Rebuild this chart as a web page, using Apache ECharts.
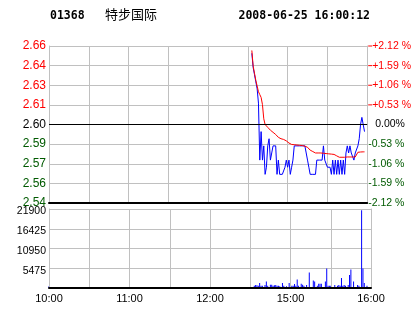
<!DOCTYPE html>
<html><head><meta charset="utf-8">
<script src="https://cdn.jsdelivr.net/npm/echarts@6/dist/echarts.min.js"></script>
<style>html,body{margin:0;padding:0;background:#fff;}#c{width:414px;height:314px;}</style>
</head><body><div id="c"></div>
<script>
// ---- header ----
const stockCode = '01368';
const stockName = '特步国际';
const timestamp = '2008-06-25 16:00:12';
const prevClose = 2.60;

// ---- tick labels ----
const timeAxisLabels = ['10:00', '11:00', '12:00', '15:00', '16:00'];
const priceAxisLabels = ['2.54', '2.56', '2.57', '2.59', '2.60', '2.61', '2.63', '2.64', '2.66'];
const pctAxisLabels = ['-2.12 %', '-1.59 %', '-1.06 %', '-0.53 %', '0.00%', '+0.53 %', '+1.06 %', '+1.59 %', '+2.12 %'];
const volAxisLabels = ['', '5475', '10950', '16425', '21900'];
const pctRange = [-2.12, 2.12];
const pctStep = 0.53;
const volRange = [0, 21900];
const volStep = 5475;

// ---- series (one value per minute, starting at seriesStart) ----
const seriesStart = '14:33';
const lastPrice = [
  2.650, 2.640, 2.635, 2.630, 2.625, 2.615, 2.575, 2.595, 2.575, 2.585,
  2.565, 2.570, 2.585, 2.590, 2.575, 2.580, 2.585, 2.585, 2.585, 2.565,
  2.575, 2.565, 2.565, 2.565, 2.565, 2.570, 2.575, 2.570, 2.575, 2.565,
  2.570, 2.575, 2.585, 2.585, 2.585, 2.585, 2.585, 2.585, 2.585, 2.585,
  2.585, 2.580, 2.575, 2.570, 2.565, 2.565, 2.565, 2.565, 2.565, 2.575,
  2.575, 2.575, 2.575, 2.575, 2.585, 2.575, 2.575, 2.570, 2.570, 2.570,
  2.565, 2.575, 2.565, 2.575, 2.565, 2.575, 2.565, 2.575, 2.565, 2.575,
  2.565, 2.580, 2.585, 2.580, 2.585, 2.580, 2.580, 2.575, 2.580, 2.580,
  2.585, 2.590, 2.600, 2.605, 2.600, 2.595
];
const avgPrice = [
  2.652, 2.641, 2.636, 2.631, 2.627, 2.623, 2.621, 2.619, 2.614, 2.604,
  2.600, 2.599, 2.598, 2.597, 2.596, 2.595, 2.5945, 2.594, 2.593, 2.592,
  2.591, 2.5905, 2.590, 2.590, 2.5895, 2.589, 2.5885, 2.588, 2.587, 2.5865,
  2.586, 2.586, 2.5858, 2.5857, 2.5856, 2.5855, 2.5854, 2.5853, 2.5852, 2.585,
  2.5848, 2.5843, 2.584, 2.583, 2.582, 2.5815, 2.581, 2.5805, 2.580, 2.580,
  2.580, 2.580, 2.580, 2.5798, 2.5798, 2.5797, 2.5796, 2.5795, 2.5794, 2.5793,
  2.5792, 2.5791, 2.579, 2.579, 2.578, 2.577, 2.577, 2.577, 2.577, 2.577,
  2.577, 2.577, 2.5772, 2.5772, 2.5772, 2.5772, 2.5772, 2.5772, 2.5772, 2.5772,
  2.5805, 2.5806, 2.5807, 2.5808, 2.5808, 2.5808
];
const volume = [
  650, 840, 740, 650, 1400, 650, 650, 0, 840, 1770,
  650, 0, 930, 930, 650, 740, 840, 650, 650, 465,
  0, 1400, 650, 0, 465, 0, 1400, 0, 650, 650,
  1120, 650, 2330, 650, 0, 1210, 930, 650, 0, 840,
  0, 4280, 0, 0, 2050, 1770, 0, 650, 1210, 1210,
  1210, 0, 0, 1770, 5400, 650, 650, 650, 0, 0,
  840, 0, 650, 840, 650, 2790, 650, 840, 650, 0,
  840, 3630, 5115, 0, 1770, 0, 0, 840, 650, 0,
  21580, 5400, 1400, 0, 650, 0
];
const openTime = '10:00';
const openVolume = 500;

// ---- session minutes (10:00-12:30, 14:31-16:00) ----
function pad(n) { return (n < 10 ? '0' : '') + n; }
const times = [];
for (let t = 600; t <= 750; t++) times.push(pad(Math.floor(t / 60)) + ':' + pad(t % 60));
for (let t = 871; t <= 960; t++) times.push(pad(Math.floor(t / 60)) + ':' + pad(t % 60));

const startIdx = times.indexOf(seriesStart);
const toPct = p => (p / prevClose - 1) * 100;
const priceData = times.map((t, i) => (i >= startIdx && i < startIdx + lastPrice.length) ? toPct(lastPrice[i - startIdx]) : null);
const avgData = times.map((t, i) => (i >= startIdx && i < startIdx + avgPrice.length) ? toPct(avgPrice[i - startIdx]) : null);
const volData = times.map((t, i) => {
  if (t === openTime) return openVolume;
  return (i >= startIdx && i < startIdx + volume.length) ? volume[i - startIdx] : null;
});

const RED = '#ff0000', GREEN = '#005a00', BLUE = '#0000ff', GRAY = '#c0c0c0';
const pctIndex = v => Math.round((v - pctRange[0]) / pctStep);
const signColor = v => v > 1e-6 ? RED : (v < -1e-6 ? GREEN : '#000');
const isTimeLabel = (idx) => timeAxisLabels.indexOf(times[idx]) >= 0;

const chart = echarts.init(document.getElementById('c'), null, { renderer: 'canvas' });
chart.setOption({
  animation: false,
  backgroundColor: '#fff',
  graphic: [
    { type: 'text', left: 50, top: 10, style: { text: stockCode, font: 'bold 11.5px "DejaVu Sans Mono"', fill: '#000' } },
    { type: 'text', left: 105, top: 8, style: { text: stockName, font: '13px "Noto Sans CJK SC"', fill: '#000' } },
    { type: 'text', right: 44, top: 10, style: { text: timestamp, font: 'bold 11.5px "DejaVu Sans Mono"', fill: '#000' } }
  ],
  grid: [
    { left: 49, right: 43, top: 46, height: 157 },
    { left: 49, right: 43, top: 209, height: 79 }
  ],
  xAxis: [
    {
      type: 'category', gridIndex: 0, data: times, boundaryGap: false, z: 3,
      axisLine: { onZero: false, lineStyle: { color: '#000', width: 2 } },
      axisTick: { show: false }, axisLabel: { show: false },
      splitLine: { show: true, interval: (i) => i % 30 === 0, lineStyle: { color: GRAY } }
    },
    {
      type: 'category', gridIndex: 1, data: times, boundaryGap: false, z: 3,
      axisLine: { onZero: false, lineStyle: { color: '#000', width: 2 } },
      axisTick: { show: false },
      axisLabel: { interval: (i) => isTimeLabel(i), color: '#000', fontFamily: 'Liberation Sans', fontSize: 11, margin: 5 },
      splitLine: { show: true, interval: (i) => i % 30 === 0, lineStyle: { color: GRAY } }
    }
  ],
  yAxis: [
    {
      type: 'value', gridIndex: 0, position: 'left', min: pctRange[0], max: pctRange[1], interval: pctStep,
      axisLine: { show: true, lineStyle: { color: GRAY } }, axisTick: { show: false },
      axisLabel: {
        formatter: (v) => priceAxisLabels[pctIndex(v)], color: (v) => signColor(v),
        fontFamily: 'Liberation Sans', fontSize: 12, margin: 3
      },
      splitLine: { show: true, lineStyle: { color: GRAY } }
    },
    {
      type: 'value', gridIndex: 0, position: 'right', min: pctRange[0], max: pctRange[1], interval: pctStep,
      axisLine: { show: true, lineStyle: { color: GRAY } }, axisTick: { show: false },
      axisLabel: {
        margin: 1, fontFamily: 'Liberation Sans', fontSize: 10,
        formatter: (v) => {
          const s = pctAxisLabels[pctIndex(v)];
          if (v > 1e-6) return '{t|}{p|' + s + '}';
          if (v < -1e-6) return '{n|' + s + '}';
          return '{z|' + s + '}';
        },
        rich: {
          t: { width: 4, height: 1, backgroundColor: RED, verticalAlign: 'middle' },
          p: { color: RED, fontFamily: 'Liberation Sans', fontSize: 10.5 },
          n: { color: GREEN, fontFamily: 'Liberation Sans', fontSize: 10.5 },
          z: { color: '#000', fontFamily: 'Liberation Sans', fontSize: 10.5, padding: [0, 0, 0, 7] }
        }
      },
      splitLine: { show: false }
    },
    {
      type: 'value', gridIndex: 1, position: 'left', min: volRange[0], max: volRange[1], interval: volStep,
      axisLine: { show: true, lineStyle: { color: GRAY } }, axisTick: { show: false },
      axisLabel: {
        formatter: (v) => volAxisLabels[Math.round(v / volStep)], color: '#000',
        fontFamily: 'Liberation Sans', fontSize: 10.5, margin: 3,
        verticalAlign: 'top', lineHeight: 5
      },
      splitLine: { show: true, lineStyle: { color: GRAY } }
    },
    {
      type: 'value', gridIndex: 1, position: 'right', min: volRange[0], max: volRange[1], interval: volStep,
      axisLine: { show: true, lineStyle: { color: GRAY } }, axisTick: { show: false },
      axisLabel: { show: false }, splitLine: { show: false }
    }
  ],
  series: [
    {
      type: 'line', xAxisIndex: 0, yAxisIndex: 0, data: priceData, showSymbol: false, symbol: 'none',
      lineStyle: { color: BLUE, width: 1 }, z: 3,
      markLine: {
        silent: true, symbol: 'none', label: { show: false },
        lineStyle: { color: '#000', width: 1, type: 'solid' },
        data: [{ yAxis: 0 }]
      }
    },
    {
      type: 'line', xAxisIndex: 0, yAxisIndex: 0, data: avgData, showSymbol: false, symbol: 'none',
      lineStyle: { color: RED, width: 1 }, z: 4
    },
    {
      type: 'bar', xAxisIndex: 1, yAxisIndex: 2, data: volData, barWidth: 1,
      itemStyle: { color: BLUE }
    }
  ]
});
</script>
</body></html>
